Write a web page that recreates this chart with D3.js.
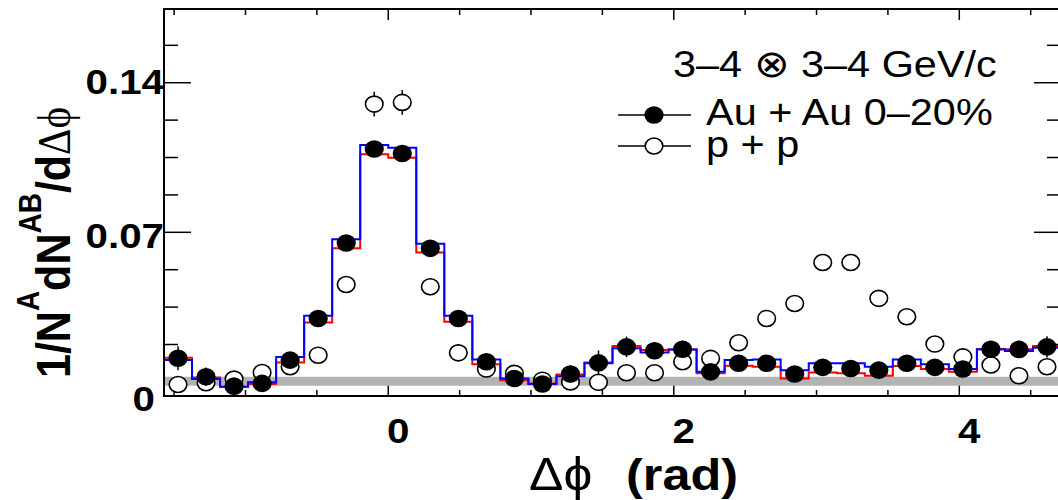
<!DOCTYPE html>
<html>
<head>
<meta charset="utf-8">
<script src="https://cdn.jsdelivr.net/npm/d3@7"></script>
<style>
  body { margin: 0; background: #fff; }
  svg { display: block; }
  text { font-family: "Liberation Sans", Arial, Helvetica, sans-serif; }
</style>
</head>
<body>
<div id="chart"></div>
<script>
// 32 bins of width pi/16 over [-pi/2, 3pi/2]
const nBins = 32;
const phiMin = -Math.PI / 2, phiMax = 3 * Math.PI / 2;

// Au+Au 0-20% (solid points)
const auau = [0.0111, 0.0024, -0.0020, -0.0007, 0.0102, 0.0297, 0.0650, 0.1090,
              0.1069, 0.0625, 0.0297, 0.0094, 0.0016, -0.0010, 0.0037, 0.0089,
              0.0164, 0.0146, 0.0153, 0.0047, 0.0087, 0.0087, 0.0037, 0.0068,
              0.0063, 0.0055, 0.0087, 0.0068, 0.0060, 0.0153, 0.0152, 0.0164];
const auauErr = [0.0056, 0.0043, 0.0035, 0.0035, 0.0035, 0.0035, 0.0035, 0.0035,
                 0.0035, 0.0035, 0.0035, 0.0035, 0.0035, 0.0035, 0.0040, 0.0058,
                 0.0048, 0.0040, 0.0040, 0.0035, 0.0035, 0.0035, 0.0035, 0.0035,
                 0.0035, 0.0035, 0.0035, 0.0035, 0.0035, 0.0040, 0.0040, 0.0050];
// p+p (open points)
const pp = [-0.0012, -0.0004, 0.0013, 0.0044, 0.0071, 0.0125, 0.0456, 0.1300,
            0.1308, 0.0445, 0.0136, 0.0060, 0.0040, 0.0008, 0.0000, -0.0002,
            0.0043, 0.0043, 0.0094, 0.0110, 0.0183, 0.0297, 0.0367, 0.0559,
            0.0559, 0.0391, 0.0305, 0.0177, 0.0117, 0.0079, 0.0029, 0.0071];
const ppErr = [0.003, 0.003, 0.003, 0.003, 0.003, 0.003, 0.004, 0.0058,
               0.0058, 0.004, 0.003, 0.003, 0.003, 0.003, 0.003, 0.003,
               0.003, 0.003, 0.003, 0.003, 0.003, 0.0035, 0.0035, 0.0038,
               0.0038, 0.0035, 0.0035, 0.003, 0.003, 0.003, 0.003, 0.003];
// systematic histograms
const histRed = [0.0113, 0.0021, -0.0023, -0.0010, 0.0091, 0.0278, 0.0625, 0.1065,
                 0.1049, 0.0606, 0.0281, 0.0083, 0.0008, -0.0007, 0.0035, 0.0091,
                 0.0168, 0.0149, 0.0152, 0.0040, 0.0075, 0.0071, 0.0016, 0.0044,
                 0.0040, 0.0029, 0.0074, 0.0060, 0.0047, 0.0153, 0.0153, 0.0168];
const histBlue = [0.0102, 0.0013, -0.0023, -0.0002, 0.0117, 0.0309, 0.0667, 0.1108,
                  0.1096, 0.0646, 0.0309, 0.0105, 0.0016, -0.0010, 0.0027, 0.0087,
                  0.0157, 0.0138, 0.0152, 0.0047, 0.0102, 0.0105, 0.0055, 0.0087,
                  0.0087, 0.0071, 0.0105, 0.0082, 0.0060, 0.0153, 0.0144, 0.0160];
// ZYAM band
const bandLo = -0.0018, bandHi = 0.0024;

const xMajor = [0, 2, 4];
const xMinor = [-1.5, -1, -0.5, 0.5, 1, 1.5, 2.5, 3, 3.5, 4.5];
const yMajor = [0, 0.07, 0.14];
const yMinor = [0.0175, 0.035, 0.0525, 0.0875, 0.105, 0.1225, 0.1575];
const yLabels = ["0", "0.07", "0.14"];
const xLabels = ["0", "2", "4"];

const W = 1058, H = 500;
const SX = 1.12; // the figure is a little wider than tall
const frame = { left: 164, right: 1061, top: 9, bottom: 396 };

const svg = d3.select("#chart").append("svg")
    .attr("width", W).attr("height", H);

const x = d3.scaleLinear().domain([phiMin, phiMax]).range([frame.left, frame.right]);
const y = d3.scaleLinear().domain([-0.0066, 0.1745]).range([frame.bottom, frame.top]);

const binW = (phiMax - phiMin) / nBins;
const edges = d3.range(nBins + 1).map(i => phiMin + i * binW);
const centers = d3.range(nBins).map(i => phiMin + (i + 0.5) * binW);

// ticks go first so the band hides the zero tick, as in the original
const ticks = svg.append("g").attr("stroke", "#000");
function xTicks(vals, len) {
  vals.forEach(v => {
    ticks.append("line").attr("x1", x(v)).attr("x2", x(v))
      .attr("y1", frame.bottom).attr("y2", frame.bottom - len).attr("stroke-width", 1.5);
    ticks.append("line").attr("x1", x(v)).attr("x2", x(v))
      .attr("y1", frame.top).attr("y2", frame.top + len).attr("stroke-width", 1.5);
  });
}
function yTicks(vals, len) {
  vals.forEach(v => {
    ticks.append("line").attr("x1", frame.left).attr("x2", frame.left + len)
      .attr("y1", y(v)).attr("y2", y(v)).attr("stroke-width", 1.5);
    ticks.append("line").attr("x1", frame.right).attr("x2", frame.right - len)
      .attr("y1", y(v)).attr("y2", y(v)).attr("stroke-width", 1.5);
  });
}
xTicks(xMajor, 11);
xTicks(xMinor, 6);
yTicks(yMajor, 27);
yTicks(yMinor, 14);

const plot = svg.append("g");

// gray band
plot.append("rect")
    .attr("x", x(phiMin)).attr("y", y(bandHi))
    .attr("width", x(phiMax) - x(phiMin)).attr("height", y(bandLo) - y(bandHi))
    .attr("fill", "#b3b3b3");

// step histograms
const step = d3.line().x(d => x(d[0])).y(d => y(d[1])).curve(d3.curveStepAfter);
function histPts(vals) {
  const pts = vals.map((v, i) => [edges[i], v]);
  pts.push([edges[nBins], vals[nBins - 1]]);
  return pts;
}
plot.append("path").attr("d", step(histPts(histRed)))
    .attr("fill", "none").attr("stroke", "#ff0000").attr("stroke-width", 2);
plot.append("path").attr("d", step(histPts(histBlue)))
    .attr("fill", "none").attr("stroke", "#0000ff").attr("stroke-width", 2);

const RX = 9.6, RY = 8.8;

function drawSeries(vals, errs, filled) {
  const g = plot.append("g");
  g.selectAll("line").data(vals).enter().append("line")
      .attr("x1", (d, i) => x(centers[i])).attr("x2", (d, i) => x(centers[i]))
      .attr("y1", (d, i) => y(d + errs[i])).attr("y2", (d, i) => y(d - errs[i]))
      .attr("stroke", "#000").attr("stroke-width", 1.5);
  g.selectAll("ellipse").data(vals).enter().append("ellipse")
      .attr("cx", (d, i) => x(centers[i])).attr("cy", d => y(d))
      .attr("rx", filled ? RX : RX - 0.8).attr("ry", filled ? RY : RY - 0.8)
      .attr("fill", filled ? "#000" : "#fff")
      .attr("stroke", "#000").attr("stroke-width", filled ? 0 : 1.6);
}
drawSeries(pp, ppErr, false);
drawSeries(auau, auauErr, true);

// frame on top
svg.append("rect")
    .attr("x", frame.left).attr("y", frame.top)
    .attr("width", frame.right - frame.left).attr("height", frame.bottom - frame.top)
    .attr("fill", "none").attr("stroke", "#000").attr("stroke-width", 2);

function label(px, py, str, size, weight, anchor) {
  return svg.append("text")
    .attr("transform", `translate(${px},${py}) scale(${SX},1)`)
    .attr("text-anchor", anchor || "start")
    .attr("font-size", size).attr("font-weight", weight || "normal")
    .text(str);
}

// tick labels
xMajor.forEach((v, i) => label(x(v) + 10, 443, xLabels[i], 36, "bold", "middle"));
const yNudge = { 0: [-9, 29.5], 0.07: [0, 15.5], 0.14: [0, 11] };
yMajor.forEach((v, i) => label(164 + yNudge[v][0], y(v) + yNudge[v][1], yLabels[i], 36, "bold", "end"));

// x title
svg.append("text")
    .attr("transform", `translate(529,490) scale(${SX},1)`)
    .attr("font-size", 46)
    .attr("font-family", "'Liberation Serif', 'DejaVu Serif', serif")
    .text("Δϕ");
label(626, 490, "(rad)", 45, "bold");

// y title
const yt = svg.append("text")
    .attr("transform", `translate(70,378) scale(${SX},1) rotate(-90)`)
    .attr("font-size", 43).attr("font-weight", "bold");
yt.append("tspan").text("1/N");
yt.append("tspan").attr("dy", -28).attr("font-size", 28).text("A");
yt.append("tspan").attr("dy", 28).text("dN");
yt.append("tspan").attr("dy", -26).attr("font-size", 28).text("AB");
yt.append("tspan").attr("dy", 26).text("/d");
yt.append("tspan").attr("font-weight", "normal").attr("font-size", 41)
    .attr("font-family", "'Liberation Serif', 'DejaVu Serif', serif").text("Δϕ");

// legend
const head = label(673, 77, "3–4 ", 37);
head.append("tspan").attr("font-family", "'DejaVu Sans', sans-serif")
    .attr("font-size", 38).attr("font-weight", 300).text("⊗");
head.append("tspan").text(" 3–4 GeV/c");
label(706, 125, "Au + Au 0–20%", 37);
label(706, 157, "p + p", 37);
const leg = svg.append("g");
[[115, true], [146, false]].forEach(([ly, filled]) => {
  leg.append("line").attr("x1", 618).attr("x2", 691).attr("y1", ly).attr("y2", ly)
     .attr("stroke", "#000").attr("stroke-width", 1.5);
  leg.append("ellipse").attr("cx", 654).attr("cy", ly)
     .attr("rx", filled ? RX : RX - 0.8).attr("ry", filled ? RY : RY - 0.8)
     .attr("fill", filled ? "#000" : "#fff")
     .attr("stroke", "#000").attr("stroke-width", filled ? 0 : 1.6);
});
</script>
</body>
</html>
